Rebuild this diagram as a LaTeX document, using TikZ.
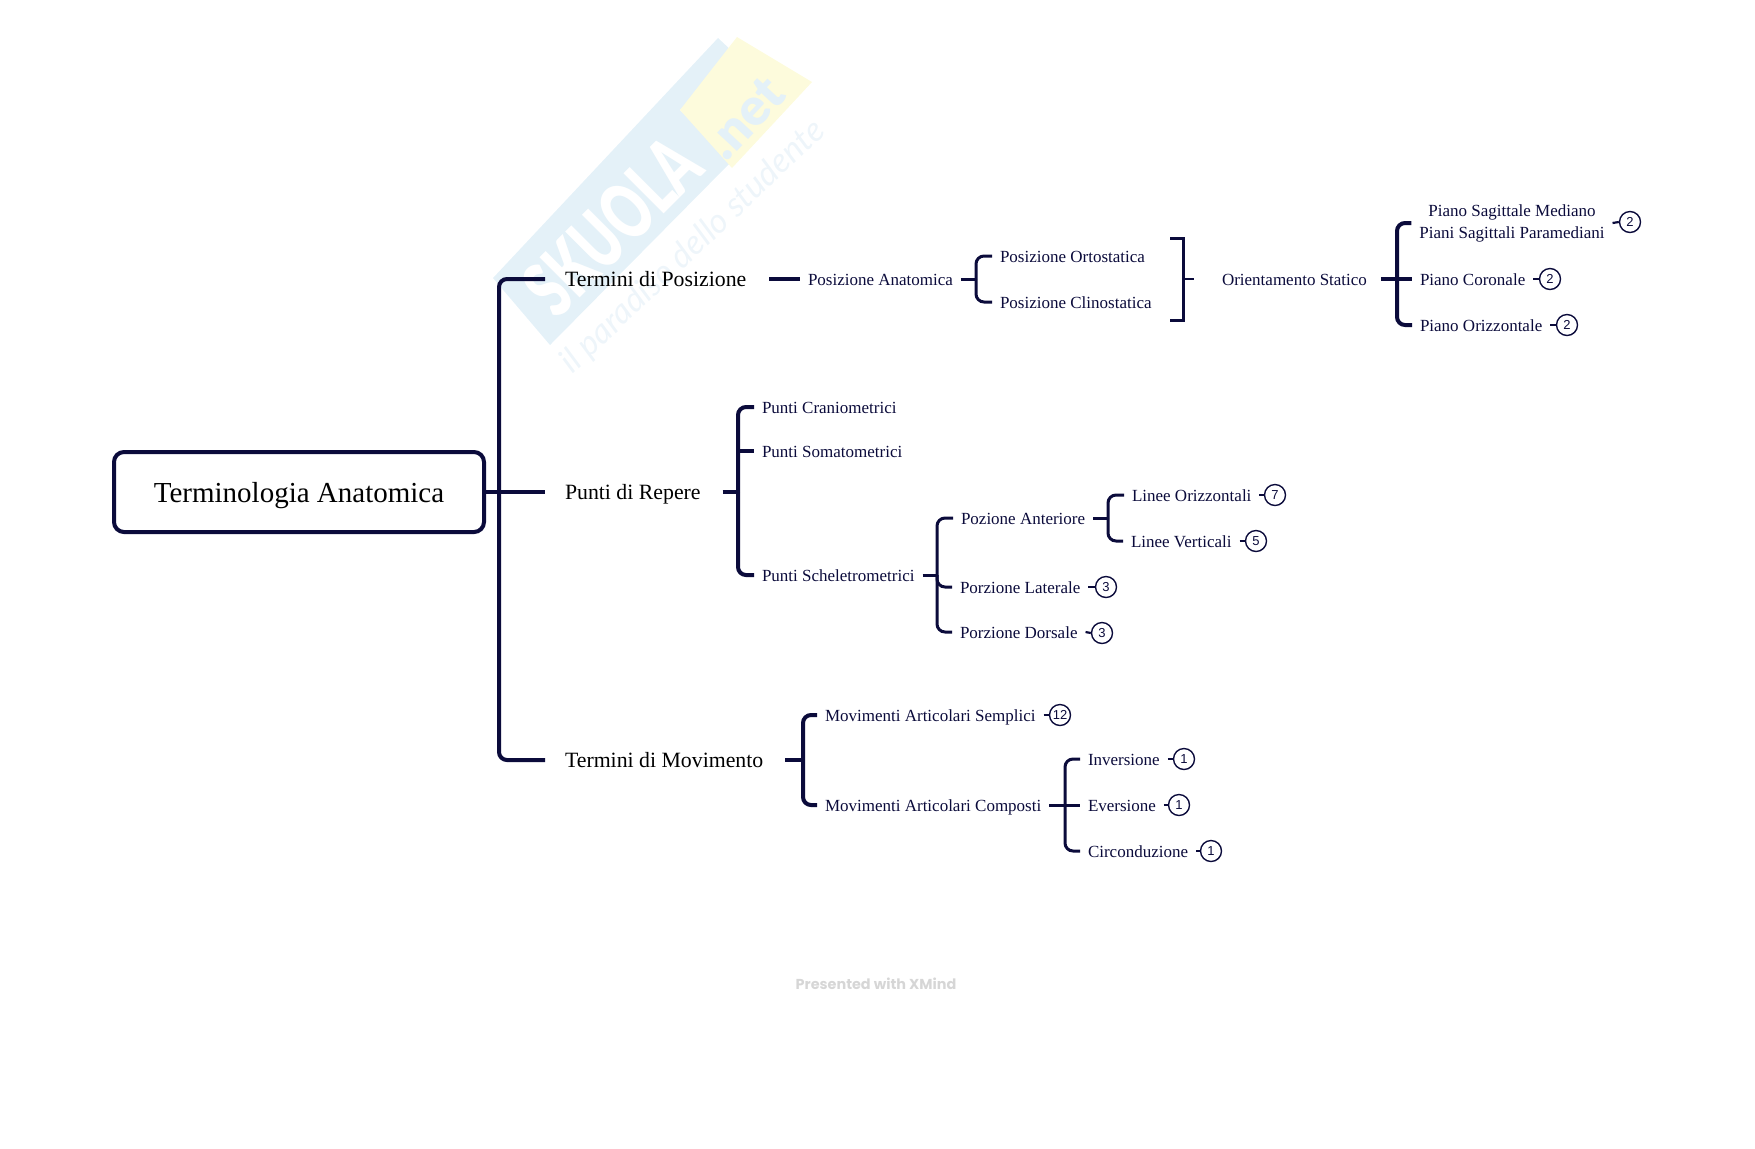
\documentclass[tikz,border=0pt]{standalone}
\usepackage{fontspec}
\usepackage{graphicx}
\setmainfont{Liberation Serif}
\newfontfamily\wmfont{Lato}
\newfontfamily\wmbold{Lato Black}
\newfontfamily\xmfont{Poppins}
\setsansfont{Liberation Sans}
\definecolor{navy}{HTML}{0B0B3B}
\definecolor{wmblue}{HTML}{E4F1F8}
\definecolor{wmpale}{HTML}{EEF5FA}
\definecolor{wmyellow}{HTML}{FDFBDC}
\tikzset{
  tsmall/.style={anchor=west,inner sep=0pt,outer xsep=4pt,outer ysep=0pt,xshift=-4pt,text height=8.1pt,text depth=2pt,text=navy,font=\fontsize{8.5}{10.5}\selectfont},
  tdouble/.style={inner sep=0pt,outer xsep=4pt,outer ysep=0pt,text=navy,font=\fontsize{8.5}{11}\selectfont,align=center},
  tbig/.style={anchor=west,inner sep=0pt,outer xsep=10pt,outer ysep=0pt,xshift=-10pt,text height=10pt,text depth=3pt,text=black,font=\fontsize{10.9}{14}\selectfont},
  rootbox/.style={draw=navy,line width=2pt,rounded corners=5pt,minimum width=185pt,minimum height=40pt,inner sep=0pt,text height=14pt,text depth=4pt,font=\fontsize{14.5}{18}\selectfont},
  badge/.style={circle,draw=navy,line width=0.7pt,minimum size=10.5pt,inner sep=0pt,text=navy,font=\sffamily\fontsize{6.5}{7}\selectfont},
  thick line/.style={draw=navy,line width=2pt,rounded corners=4pt},
  mid line/.style={draw=navy,line width=1.5pt,rounded corners=4pt},
  thin line/.style={draw=navy,line width=1.1pt},
}
\begin{document}
\begin{tikzpicture}[x=0.5pt,y=-0.5pt]
\useasboundingbox (0,0) rectangle (1755,1148);
% watermark
\fill[wmblue] (493,278) -- (718,38) -- (733,52) -- (680,110) -- (730,163) -- (550,345) -- cycle;
\fill[wmyellow] (737,37) -- (812,82) -- (732,168) -- (680,110) -- cycle;
\node[rotate=45,text=white,inner sep=0pt,font=\wmbold\fontsize{26}{30}\selectfont] (wm1) at (612,226) {\scalebox{1}[1.5]{SKUOLA}};
\node[rotate=47,text=wmblue,inner sep=0pt,font=\wmbold\fontsize{26}{28}\selectfont] (wm2) at (745,118) {.net};
\node[rotate=43.5,text=wmpale,inner sep=0pt,font=\wmfont\itshape\fontsize{17}{19}\selectfont] (wm3) at (693,247) {il paradiso dello studente};
% footer
\node[text=black!16,inner sep=0pt,font=\xmfont\bfseries\fontsize{7.2}{9}\selectfont] (foot) at (876,984) {Presented with XMind};
% root
\node[rootbox] (root) at (299,492) {Terminologia Anatomica};
% level 1
\node[tbig] (tp) at (565,279) {Termini di Posizione};
\node[tbig] (pr) at (565,492) {Punti di Repere};
\node[tbig] (tm) at (565,760) {Termini di Movimento};
\coordinate (j0) at (499,492);
\draw[thick line] (j0) |- (tp.west);
\draw[thick line] (j0) |- (tm.west);
\draw[thick line] (root.east) -- (pr.west);
% Posizione
\node[tsmall] (pa) at (808,279) {Posizione Anatomica};
\node[tsmall] (po) at (1000,256) {Posizione Ortostatica};
\node[tsmall] (pc) at (1000,302) {Posizione Clinostatica};
\node[tsmall] (os) at (1222,279) {Orientamento Statico};
\node[tdouble] (psm) at (1512,223) {Piano Sagittale Mediano\\Piani Sagittali Paramediani};
\node[tsmall] (pco) at (1420,279) {Piano Coronale};
\node[tsmall] (por) at (1420,325) {Piano Orizzontale};
\draw[thick line] ([xshift=1.5pt]tp.east) -- (pa.west);
\coordinate (j1) at (976,279);
\draw[mid line] (pa.east) -- (j1);
\draw[mid line] (j1) |- (po.west);
\draw[mid line] (j1) |- (pc.west);
\coordinate (rb1) at (1170,238);
\coordinate (rb2) at (1170,320);
\coordinate (rbm) at (1183,279);
\coordinate (rbs) at (1194,279);
\draw[mid line,rounded corners=0pt] (rb1) -| (rbm) |- (rb2);
\draw[thin line] (rbm) -- (rbs);
\coordinate (j2) at (1397,279);
\draw[thick line] ([xshift=3pt]os.east) -- (pco.west);
\draw[thick line] (j2) |- (psm.west);
\draw[thick line] (j2) |- (por.west);
\node[badge] (b1) at (1630,222) {2};
\node[badge] (b2) at (1550,279) {2};
\node[badge] (b3) at (1567,325) {2};
\draw[thin line] (psm.east) -- (b1.west);
\draw[thin line] (pco.east) -- (b2.west);
\draw[thin line] (por.east) -- (b3.west);
% Repere
\node[tsmall] (pcr) at (762,407) {Punti Craniometrici};
\node[tsmall] (pso) at (762,451) {Punti Somatometrici};
\node[tsmall] (psc) at (762,575) {Punti Scheletrometrici};
\coordinate (j3) at (738,492);
\draw[thick line] ([xshift=1pt]pr.east) -- (j3);
\draw[thick line] (j3) |- (pcr.west);
\draw[thick line] (j3) |- (psc.west);
\draw[thick line] (j3 |- pso.west) -- (pso.west);
\node[tsmall] (pan) at (961,518) {Pozione Anteriore};
\node[tsmall] (pla) at (960,587) {Porzione Laterale};
\node[tsmall] (pdo) at (960,632) {Porzione Dorsale};
\coordinate (j4) at (937,575);
\draw[mid line] (psc.east) -- (j4);
\draw[mid line] (j4) |- (pan.west);
\draw[mid line] (j4) |- (pdo.west);
\draw[mid line] (j4) |- (pla.west);
\node[tsmall] (lo) at (1132,495) {Linee Orizzontali};
\node[tsmall] (lv) at (1131,541) {Linee Verticali};
\coordinate (j5) at (1108,518);
\draw[mid line] (pan.east) -- (j5);
\draw[mid line] (j5) |- (lo.west);
\draw[mid line] (j5) |- (lv.west);
\node[badge] (b4) at (1275,495) {7};
\node[badge] (b5) at (1256,541) {5};
\node[badge] (b6) at (1106,587) {3};
\node[badge] (b7) at (1102,633) {3};
\draw[thin line] (lo.east) -- (b4.west);
\draw[thin line] (lv.east) -- (b5.west);
\draw[thin line] (pla.east) -- (b6.west);
\draw[thin line] (pdo.east) -- (b7.west);
% Movimento
\node[tsmall] (ms) at (825,715) {Movimenti Articolari Semplici};
\node[tsmall] (mc) at (825,805) {Movimenti Articolari Composti};
\coordinate (j6) at (803,760);
\draw[thick line] ([xshift=1pt]tm.east) -- (j6);
\draw[thick line] (j6) |- (ms.west);
\draw[thick line] (j6) |- (mc.west);
\node[badge] (b8) at (1060,715) {12};
\draw[thin line] (ms.east) -- (b8.west);
\node[tsmall] (inv) at (1088,759) {Inversione};
\node[tsmall] (eve) at (1088,805) {Eversione};
\node[tsmall] (cir) at (1088,851) {Circonduzione};
\coordinate (j7) at (1065,805);
\draw[mid line] (mc.east) -- (eve.west);
\draw[mid line] (j7) |- (inv.west);
\draw[mid line] (j7) |- (cir.west);
\node[badge] (b9) at (1184,759) {1};
\node[badge] (b10) at (1179,805) {1};
\node[badge] (b11) at (1211,851) {1};
\draw[thin line] (inv.east) -- (b9.west);
\draw[thin line] (eve.east) -- (b10.west);
\draw[thin line] (cir.east) -- (b11.west);
\end{tikzpicture}
\end{document}
